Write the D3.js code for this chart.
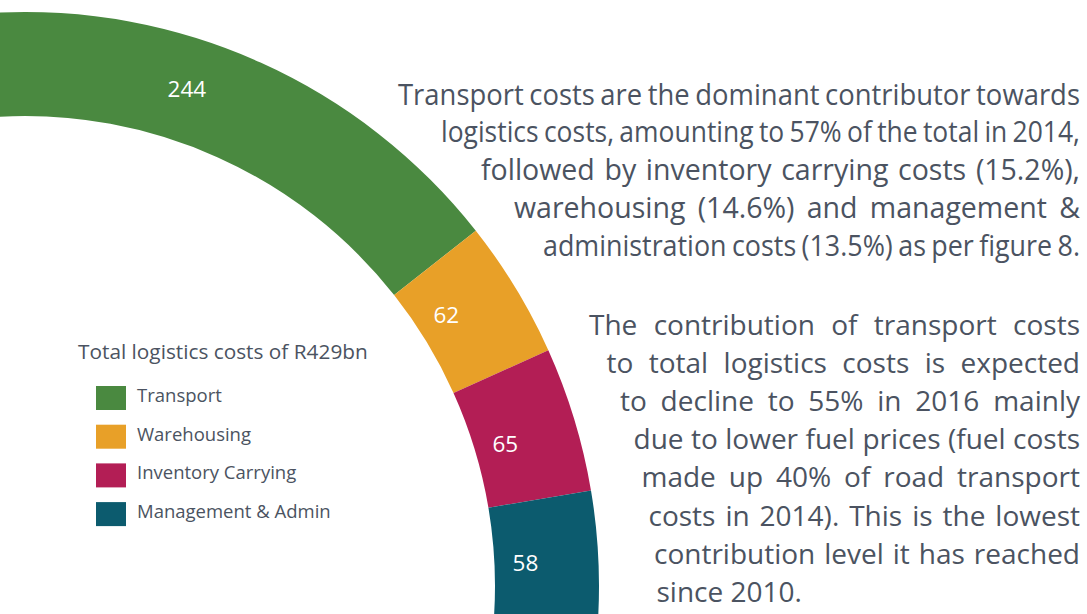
<!DOCTYPE html>
<meta charset="utf-8">
<html>
<head>
<style>
  body { margin: 0; background: #fff; }
  svg { display: block; font-family: "Open Sans", sans-serif; }
</style>
</head>
<body>
<div id="chart"></div>
<script src="https://d3js.org/d3.v7.min.js"></script>
<script>
// data (R billion, 2014)
var categories = ["Transport", "Warehousing", "Inventory Carrying", "Management & Admin"];
var costs = [244, 62, 65, 58];
var colours = ["#4a8940", "#e8a028", "#b31e55", "#0c5b6e"];
var legendTitle = "Total logistics costs of R429bn";

var para1 = [
  "Transport costs are the dominant contributor towards",
  "logistics costs, amounting to 57% of the total in 2014,",
  "followed by inventory carrying costs (15.2%),",
  "warehousing (14.6%) and management &",
  "administration costs (13.5%) as per figure 8."
];
var para2 = [
  "The contribution of transport costs",
  "to total logistics costs is expected",
  "to decline to 55% in 2016 mainly",
  "due to lower fuel prices (fuel costs",
  "made up 40% of road transport",
  "costs in 2014). This is the lowest",
  "contribution level it has reached",
  "since 2010."
];

var width = 1087, height = 614;
var textColour = "#4b5361";

var svg = d3.select("#chart").append("svg")
    .attr("width", width)
    .attr("height", height);

// ---- the donut arc (only a quarter of it sits on the page)
var cx = 25, cy = 586;
var deg = Math.PI / 180;
var pie = d3.pie().sort(null)
    .startAngle(-3.3 * deg)
    .endAngle(93.5 * deg);
var arc = d3.arc().innerRadius(470).outerRadius(574);

var slices = pie(costs);
var g = svg.append("g").attr("transform", "translate(" + cx + "," + cy + ")");

g.selectAll("path")
  .data(slices)
  .enter().append("path")
    .attr("d", arc)
    .attr("fill", function(d, i) { return colours[i]; });

// value labels, nudged a little to where the original put them
var nudge = [-6.2, -1.5, 0.4, 0.3];
g.selectAll("text.val")
  .data(slices)
  .enter().append("text")
    .attr("class", "val")
    .attr("transform", function(d, i) {
      var a = (d.startAngle + d.endAngle) / 2 + nudge[i] * deg;
      var r = i === 0 ? 523 : 501;
      return "translate(" + (r * Math.sin(a)) + "," + (-r * Math.cos(a)) + ")";
    })
    .attr("text-anchor", "middle")
    .attr("dominant-baseline", "central")
    .attr("fill", "#fff")
    .attr("font-size", 22.5)
    .text(function(d) { return d.data; });

// ---- legend
var legend = svg.append("g");
legend.append("text")
    .attr("x", 78).attr("y", 358.5)
    .attr("font-size", 20.8)
    .attr("fill", textColour)
    .text(legendTitle);

var item = legend.selectAll("g.item")
  .data(categories)
  .enter().append("g")
    .attr("class", "item")
    .attr("transform", function(d, i) { return "translate(96," + (386 + i * 38.7) + ")"; });
item.append("rect")
    .attr("width", 30).attr("height", 24)
    .attr("fill", function(d, i) { return colours[i]; });
item.append("text")
    .attr("x", 41).attr("y", 16)
    .attr("font-size", 18.5)
    .attr("fill", textColour)
    .text(function(d) { return d; });

// ---- justified paragraphs, one svg text per line
function setLine(str, x0, x1, y, size, justify) {
  var words = str.split(" ");
  var lg = svg.append("g");
  var t = lg.append("text").attr("font-size", size).attr("fill", textColour);
  var spans = words.map(function(w) { return t.append("tspan").text(w); });
  var widths = spans.map(function(s) { return s.node().getComputedTextLength(); });
  var total = d3.sum(widths);
  var gap = size * 0.26, scale = 1;
  if (justify && words.length > 1) {
    gap = (x1 - x0 - total) / (words.length - 1);
    var minGap = size * 0.2;
    if (gap < minGap) {
      // too long for the line: squeeze the whole line horizontally
      scale = (x1 - x0) / (total + minGap * (words.length - 1));
      gap = minGap;
    }
  }
  var x = 0;
  spans.forEach(function(s, i) {
    s.attr("x", x);
    x += widths[i] + gap;
  });
  lg.attr("transform", "translate(" + x0 + "," + y + ") scale(" + scale + ",1)");
}

var p1Start = [398, 441, 481, 514, 543];
para1.forEach(function(line, i) {
  setLine(line, p1Start[i], 1080, 104.5 + i * 37.8, 28.5, true);
});

var p2Start = [589, 606.5, 620, 633.5, 641.5, 648.5, 654, 656.5];
para2.forEach(function(line, i) {
  setLine(line, p2Start[i], 1080, 335 + i * 38.1, 28, i < para2.length - 1);
});
</script>
</body>
</html>
